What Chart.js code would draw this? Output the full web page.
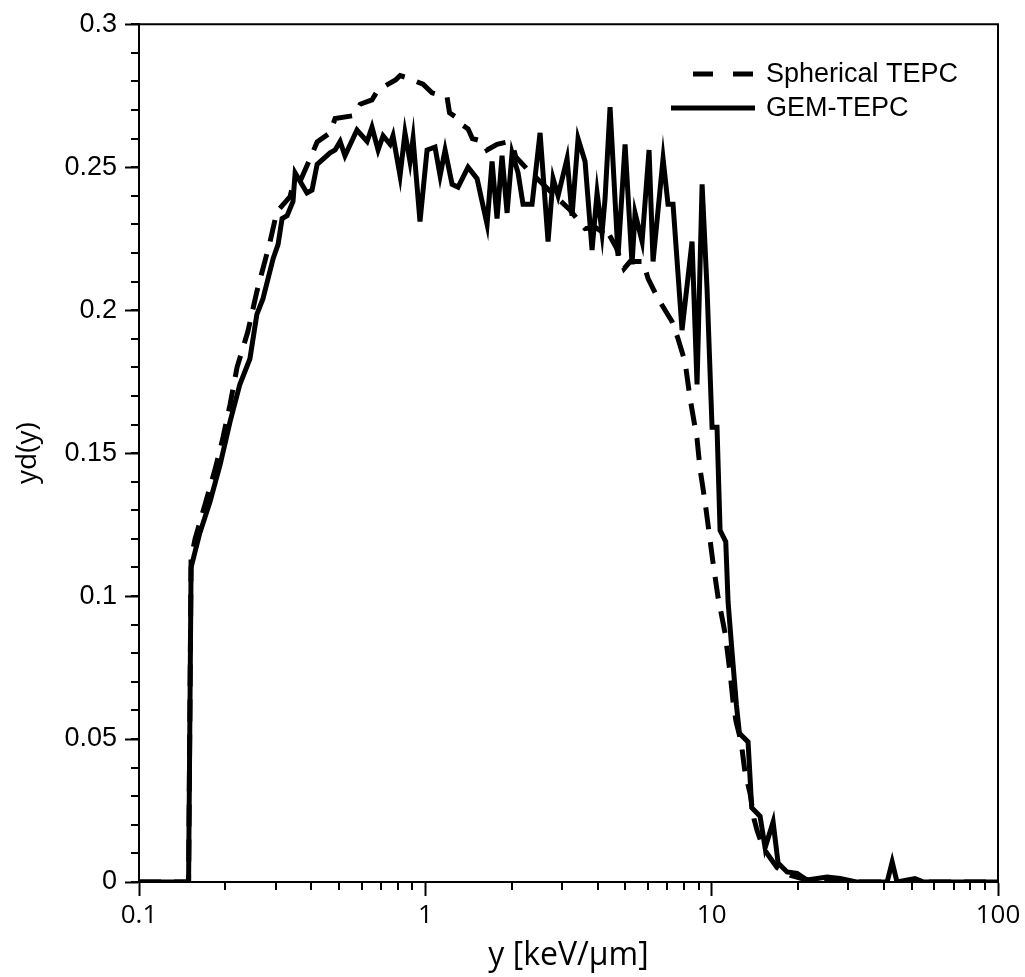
<!DOCTYPE html>
<html>
<head>
<meta charset="utf-8">
<script src="https://cdn.jsdelivr.net/npm/chart.js@4"></script>
<style>
  body { margin: 0; background: #fff; }
</style>
</head>
<body>
<canvas id="ydChart" width="1025" height="977"></canvas>
<script>
// GEM-TEPC (solid)
const gemX = [0.1, 0.149, 0.152, 0.163, 0.177, 0.192, 0.208, 0.225, 0.244, 0.258, 0.271, 0.294, 0.306, 0.316, 0.329, 0.345, 0.351,
  0.386, 0.402, 0.419, 0.465, 0.484, 0.504, 0.524, 0.577, 0.626, 0.651, 0.684, 0.712, 0.753, 0.771, 0.816, 0.849, 0.884,
  0.906, 0.958, 1.014, 1.081, 1.126, 1.172, 1.24, 1.301, 1.41, 1.516, 1.643, 1.71, 1.78, 1.853, 1.93, 2.009, 2.108, 2.194,
  2.359, 2.516, 2.683, 2.794, 2.908, 3.126, 3.254, 3.415, 3.613, 3.822, 3.979, 4.142, 4.243, 4.417, 4.711, 4.984, 5.272,
  5.401, 5.715, 6.044, 6.242, 6.765, 7.04, 7.33, 7.88, 8.54, 8.89, 9.26, 9.64, 10.03, 10.44, 10.7, 11.2, 11.41, 11.79, 12.2,
  12.5, 13.4, 13.8, 14.76, 15.37, 16.39, 17.06, 18.34, 19.88, 21.54, 25.3, 28.1, 32, 41, 42.7, 44.4, 51.3, 55, 100];
const gemY = [0, 0, 0.11, 0.122, 0.133, 0.146, 0.161, 0.174, 0.183, 0.1985, 0.204, 0.218, 0.223, 0.232, 0.233, 0.238, 0.248,
  0.241, 0.242, 0.251, 0.255, 0.256, 0.259, 0.254, 0.263, 0.259, 0.264, 0.256, 0.261, 0.258, 0.261, 0.247, 0.262, 0.252,
  0.26, 0.231, 0.256, 0.257, 0.247, 0.256, 0.244, 0.243, 0.25, 0.246, 0.23, 0.252, 0.232, 0.254, 0.234, 0.255, 0.248, 0.237,
  0.237, 0.262, 0.224, 0.246, 0.24, 0.253, 0.233, 0.26, 0.252, 0.221, 0.241, 0.227, 0.239, 0.271, 0.219, 0.258, 0.216,
  0.234, 0.224, 0.256, 0.217, 0.253, 0.237, 0.237, 0.193, 0.224, 0.174, 0.244, 0.207, 0.159, 0.159, 0.123, 0.119, 0.098, 0.08, 0.062,
  0.052, 0.049, 0.026, 0.023, 0.012, 0.021, 0.0066, 0.0035, 0.003, 0.0007, 0.0017, 0.0012, 0, 0, 0.007, 0, 0.0012, 0, 0];

// Spherical TEPC (dashed)
const sphX = [0.1, 0.149, 0.152, 0.157, 0.17, 0.184, 0.195, 0.208, 0.22, 0.24, 0.258, 0.287, 0.303, 0.337, 0.345, 0.365, 0.396,
  0.419, 0.465, 0.484, 0.559, 0.592, 0.651, 0.683, 0.787, 0.816, 0.849, 0.982, 1.055, 1.191, 1.215, 1.301, 1.335, 1.41, 1.46,
  1.591, 1.643, 1.78, 1.93, 2.025, 2.07, 2.284, 2.516, 2.838, 3.202, 3.613, 3.915, 4.142, 4.243, 4.636, 4.945, 5.188,
  5.759, 5.997, 6.5, 7.27, 7.63, 8.07, 8.41, 8.89, 9.11, 9.48, 10.1, 10.53, 11.14, 11.6, 11.88, 12.17, 12.67, 13.09, 13.62,
  14.06, 14.41, 15.12, 16.92, 18.79, 20.36, 22.43, 26, 30, 100];
const sphY = [0, 0, 0.113, 0.12, 0.132, 0.144, 0.154, 0.167, 0.18, 0.1925, 0.2065, 0.224, 0.2344, 0.2397, 0.244, 0.245, 0.253,
  0.2588, 0.262, 0.267, 0.268, 0.272, 0.2735, 0.277, 0.2805, 0.282, 0.2815, 0.279, 0.276, 0.2745, 0.269, 0.267, 0.265, 0.2634, 0.26,
  0.259, 0.256, 0.258, 0.2588, 0.257, 0.2536, 0.249, 0.245, 0.24, 0.235, 0.2285, 0.229, 0.2274, 0.229, 0.222, 0.2145, 0.217,
  0.217, 0.211, 0.204, 0.196, 0.19, 0.182, 0.169, 0.155, 0.1444, 0.133, 0.112, 0.0995, 0.087, 0.073, 0.063, 0.056, 0.049, 0.038, 0.031,
  0.022, 0.018, 0.012, 0.005, 0.0024, 0.0014, 0.0003, 0.0008, 0, 0];

const xTickValues = [0.1, 1, 10, 100];
const yTickStep = 0.05;

const toPoints = (xs, ys) => xs.map((x, i) => ({ x: x, y: ys[i] }));

// minor ticks, top/right frame and the in-plot legend
const extrasPlugin = {
  id: 'extras',
  afterDraw(chart) {
    const c = chart.ctx;
    const a = chart.chartArea;
    const xs = chart.scales.x, ys = chart.scales.y;
    c.save();
    c.strokeStyle = '#000';
    c.lineWidth = 2;
    c.beginPath();
    c.moveTo(a.left, a.top); c.lineTo(a.right, a.top); c.lineTo(a.right, a.bottom);
    c.stroke();

    c.beginPath();
    for (let d = 0.1; d < 100; d *= 10) {
      for (let m = 2; m <= 9; m++) {
        const px = Math.round(xs.getPixelForValue(d * m));
        c.moveTo(px, a.bottom); c.lineTo(px, a.bottom + 8);
      }
    }
    for (let v = 0; v <= 0.3 + 1e-9; v += 0.01) {
      const py = Math.round(ys.getPixelForValue(v));
      c.moveTo(a.left, py); c.lineTo(a.left - 8, py);
    }
    c.stroke();

    // legend
    c.font = '27px "Liberation Sans", Arial, sans-serif';
    c.fillStyle = '#000';
    c.textBaseline = 'middle';
    chart.data.datasets.forEach((ds, i) => {
      const yy = 74 + i * 34;
      const len = ds.borderDash.length ? 62 : 84;
      c.lineWidth = 5;
      c.setLineDash(ds.borderDash.length ? [20, 20] : []);
      c.beginPath();
      c.moveTo(755 - len, yy); c.lineTo(755, yy);
      c.stroke();
      c.fillText(ds.label, 766, yy + 1);
    });
    c.restore();
  }
};

const ctx = document.getElementById('ydChart').getContext('2d');
const ydChart = new Chart(ctx, {
  type: 'line',
  data: {
    datasets: [{
      label: 'Spherical TEPC',
      data: toPoints(sphX, sphY),
      borderColor: '#000',
      borderWidth: 5,
      borderDash: [22, 13],
      pointRadius: 0,
      tension: 0
    }, {
      label: 'GEM-TEPC',
      data: toPoints(gemX, gemY),
      borderColor: '#000',
      borderWidth: 5,
      borderDash: [],
      pointRadius: 0,
      tension: 0
    }]
  },
  options: {
    responsive: false,
    animation: false,
    layout: { padding: { left: 0, top: 22, right: 27, bottom: 0 } },
    plugins: {
      legend: { display: false },
      tooltip: { enabled: false }
    },
    scales: {
      x: {
        type: 'logarithmic',
        min: 0.1,
        max: 100,
        afterBuildTicks: (scale) => { scale.ticks = xTickValues.map(v => ({ value: v })); },
        afterFit: (scale) => { scale.height = 95; },
        ticks: {
          color: '#000',
          font: { family: '"Open Sans", sans-serif', size: 26 },
          padding: 4,
          maxRotation: 0,
          callback: (v) => String(v)
        },
        grid: { drawOnChartArea: false, tickLength: 14, tickWidth: 2, tickColor: '#000' },
        border: { color: '#000', width: 2 },
        title: {
          display: true,
          text: 'y [keV/µm]',
          color: '#000',
          font: { family: '"Open Sans", sans-serif', size: 32, lineHeight: 1.2 },
          padding: { top: 0, bottom: 2 }
        }
      },
      y: {
        min: 0,
        max: 0.3,
        afterFit: (scale) => { scale.width = 139; },
        ticks: {
          stepSize: yTickStep,
          color: '#000',
          font: { family: '"Liberation Sans", Arial, sans-serif', size: 27 },
          padding: 8,
          callback: (v) => String(parseFloat(v.toFixed(2)))
        },
        grid: { drawOnChartArea: false, tickLength: 14, tickWidth: 2, tickColor: '#000' },
        border: { color: '#000', width: 2 },
        title: {
          display: true,
          text: 'yd(y)',
          color: '#000',
          font: { family: '"Open Sans", sans-serif', size: 28, lineHeight: 1.2 },
          padding: { top: 11, bottom: 0 }
        }
      }
    }
  },
  plugins: [extrasPlugin]
});
</script>
</body>
</html>
